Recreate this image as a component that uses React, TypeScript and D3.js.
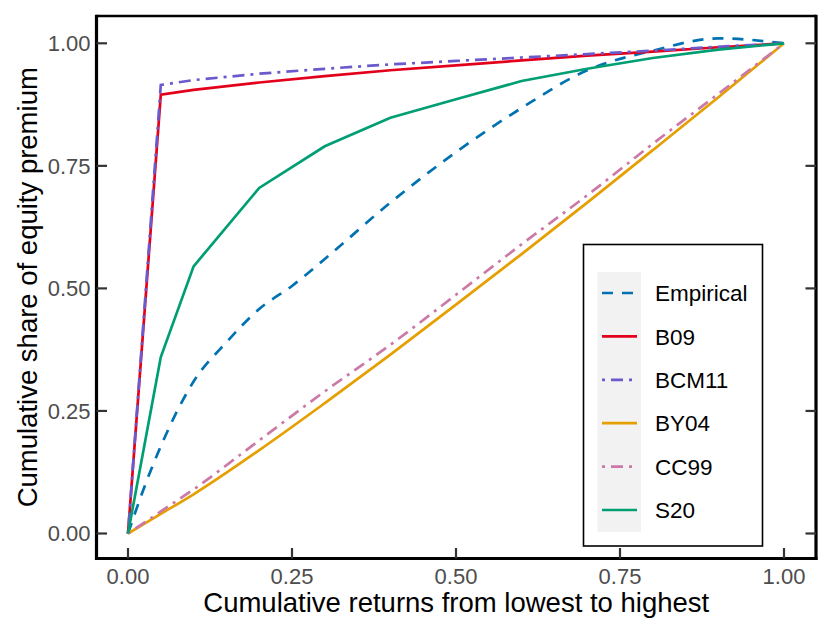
import * as d3 from 'd3';
import React, { useEffect, useRef } from 'react';

// shared x grid (cumulative returns)
const gridX = [0, 0.05, 0.1, 0.2, 0.3, 0.4, 0.5, 0.6, 0.7, 0.8, 0.9, 1];

const empiricalX = [0, 0.025, 0.05, 0.075, 0.1, 0.15, 0.2, 0.25, 0.3, 0.4, 0.5, 0.6, 0.7, 0.8, 0.9, 1];
const empiricalY = [0, 0.095, 0.178, 0.25, 0.31, 0.39, 0.458, 0.505, 0.56, 0.675, 0.778, 0.868, 0.945, 0.985, 1.01, 1.0];

const b09 = [0, 0.895, 0.905, 0.92, 0.933, 0.945, 0.955, 0.965, 0.975, 0.983, 0.992, 1];
const bcm11 = [0, 0.915, 0.925, 0.938, 0.948, 0.957, 0.964, 0.971, 0.978, 0.985, 0.993, 1];
const by04 = [0, 0.04, 0.08, 0.17, 0.266, 0.365, 0.467, 0.57, 0.675, 0.782, 0.89, 1];
const cc99 = [0, 0.045, 0.09, 0.19, 0.29, 0.385, 0.487, 0.59, 0.69, 0.795, 0.897, 1];
const s20 = [0, 0.36, 0.545, 0.705, 0.79, 0.848, 0.886, 0.923, 0.948, 0.97, 0.987, 1];

const xTicks = [0, 0.25, 0.5, 0.75, 1];
const yTicks = [0, 0.25, 0.5, 0.75, 1];

const seriesNames = ['Empirical', 'B09', 'BCM11', 'BY04', 'CC99', 'S20'];

const FONT = "'Liberation Sans', Arial, Helvetica, sans-serif";

const App: React.FC = () => {
  const svgRef = useRef<SVGSVGElement | null>(null);

  useEffect(() => {
    if (!svgRef.current) return;
    const svg = d3.select(svgRef.current);
    svg.selectAll('*').remove();

    const frame = { left: 96.5, right: 816, top: 16, bottom: 558.5 };

    const xScale = d3.scaleLinear().domain([0, 1]).range([128, 784]);
    const yScale = d3.scaleLinear().domain([0, 1]).range([533.5, 43.3]);

    const series = [
      { name: 'Empirical', xs: empiricalX, ys: empiricalY, color: '#0072B2', dash: '11,9', curve: d3.curveMonotoneX },
      { name: 'B09', xs: gridX, ys: b09, color: '#E3001B', dash: null, curve: d3.curveLinear },
      { name: 'BCM11', xs: gridX, ys: bcm11, color: '#6A5ACD', dash: '3,6,12,6', curve: d3.curveLinear },
      { name: 'BY04', xs: gridX, ys: by04, color: '#E69F00', dash: null, curve: d3.curveMonotoneX },
      { name: 'CC99', xs: gridX, ys: cc99, color: '#CC79A7', dash: '3,6,12,6', curve: d3.curveMonotoneX },
      { name: 'S20', xs: gridX, ys: s20, color: '#009E73', dash: null, curve: d3.curveLinear },
    ];

    // lines
    series.forEach((s) => {
      const pts: [number, number][] = s.xs.map((x, i) => [x, s.ys[i]]);
      const line = d3
        .line<[number, number]>()
        .x((d) => xScale(d[0]))
        .y((d) => yScale(d[1]))
        .curve(s.curve);
      svg
        .append('path')
        .attr('d', line(pts))
        .attr('fill', 'none')
        .attr('stroke', s.color)
        .attr('stroke-width', 2.7)
        .attr('stroke-dasharray', s.dash ?? null);
    });

    // frame
    svg.append('line').attr('x1', frame.left).attr('x2', frame.right).attr('y1', frame.top).attr('y2', frame.top)
      .attr('stroke', '#000').attr('stroke-width', 2.5);
    svg.append('line').attr('x1', frame.right).attr('x2', frame.right).attr('y1', frame.top - 1.2).attr('y2', frame.bottom + 1.5)
      .attr('stroke', '#000').attr('stroke-width', 3.2);
    svg.append('line').attr('x1', frame.left).attr('x2', frame.left).attr('y1', frame.top - 1.2).attr('y2', frame.bottom + 1.5)
      .attr('stroke', '#000').attr('stroke-width', 3.2);
    svg.append('line').attr('x1', frame.left - 1.5).attr('x2', frame.right + 1.5).attr('y1', frame.bottom).attr('y2', frame.bottom)
      .attr('stroke', '#000').attr('stroke-width', 3.2);

    // ticks (inward)
    const tickLen = 9;
    yTicks.forEach((t) => {
      svg.append('line').attr('x1', frame.left).attr('x2', frame.left + tickLen + 1.5)
        .attr('y1', yScale(t)).attr('y2', yScale(t)).attr('stroke', '#333').attr('stroke-width', 2.2);
      svg.append('line').attr('x1', frame.right).attr('x2', frame.right - tickLen - 1.5)
        .attr('y1', yScale(t)).attr('y2', yScale(t)).attr('stroke', '#333').attr('stroke-width', 2.2);
      svg.append('text').attr('x', frame.left - 6).attr('y', yScale(t)).attr('dy', '0.35em')
        .attr('text-anchor', 'end').attr('font-family', FONT).attr('font-size', 22).attr('fill', '#4D4D4D')
        .text(d3.format('.2f')(t));
    });
    xTicks.forEach((t) => {
      svg.append('line').attr('x1', xScale(t)).attr('x2', xScale(t))
        .attr('y1', frame.bottom).attr('y2', frame.bottom - tickLen - 1.5).attr('stroke', '#333').attr('stroke-width', 2.2);
      svg.append('text').attr('x', xScale(t)).attr('y', 584)
        .attr('text-anchor', 'middle').attr('font-family', FONT).attr('font-size', 22).attr('fill', '#4D4D4D')
        .text(d3.format('.2f')(t));
    });

    // axis titles
    svg.append('text').attr('x', (frame.left + frame.right) / 2).attr('y', 612)
      .attr('text-anchor', 'middle').attr('font-family', FONT).attr('font-size', 27.5).attr('fill', '#000')
      .text('Cumulative returns from lowest to highest');
    svg.append('text').attr('transform', `translate(37, ${(frame.top + frame.bottom) / 2}) rotate(-90)`)
      .attr('text-anchor', 'middle').attr('font-family', FONT).attr('font-size', 27.5).attr('fill', '#000')
      .text('Cumulative share of equity premium');

    // legend
    const lg = svg.append('g');
    lg.append('rect').attr('x', 583.5).attr('y', 244.5).attr('width', 179).attr('height', 301.5)
      .attr('fill', '#fff').attr('stroke', '#000').attr('stroke-width', 1.6);
    lg.append('rect').attr('x', 597.5).attr('y', 272).attr('width', 43.5).attr('height', 260).attr('fill', '#F2F2F2');
    const rowY = d3.scalePoint<string>().domain(seriesNames).range([293, 510]);
    series.forEach((s) => {
      const y = rowY(s.name)!;
      lg.append('line').attr('x1', 602).attr('x2', 637).attr('y1', y).attr('y2', y)
        .attr('stroke', s.color).attr('stroke-width', 2.7).attr('stroke-dasharray', s.dash ?? null);
      lg.append('text').attr('x', 655).attr('y', y).attr('dy', '0.36em')
        .attr('font-family', FONT).attr('font-size', 22.5).attr('fill', '#000').text(s.name);
    });
  }, []);

  return (
    <svg ref={svgRef} width={830} height={632} style={{ position: 'absolute', left: 0, top: 0, background: '#fff' }} />
  );
};

export default App;
